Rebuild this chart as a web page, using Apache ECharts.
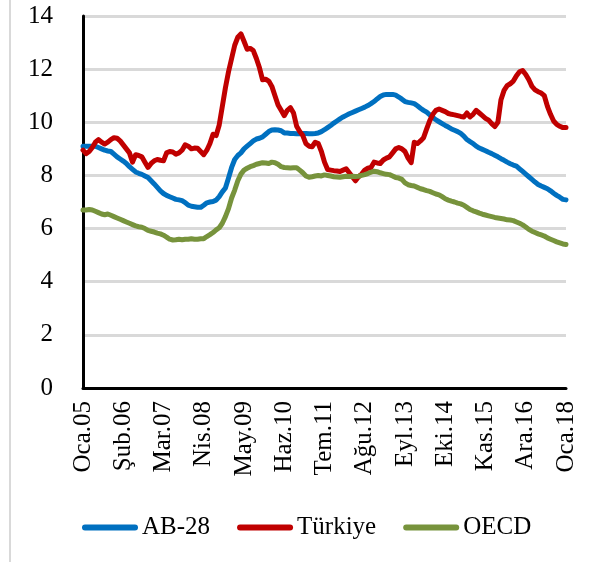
<!DOCTYPE html>
<html>
<head>
<meta charset="utf-8">
<script src="https://cdn.jsdelivr.net/npm/echarts@6/dist/echarts.min.js"></script>
<style>
html,body{margin:0;padding:0;background:#fff;}
#chart{width:592px;height:562px;}
</style>
</head>
<body>
<div id="chart"></div>
<script>
const monthNames = ['Oca','Şub','Mar','Nis','May','Haz','Tem','Ağu','Eyl','Eki','Kas','Ara'];
const years = ['05','06','07','08','09','10','11','12','13','14','15','16','17','18'];
const seriesNames = ['AB-28','Türkiye','OECD'];
const yTicks = [0,2,4,6,8,10,12,14];

const ab28 = [
9.1,9.1,9.1,9.1,9.1,9.05,9.0,8.95,8.92,8.9,8.8,8.7,
8.62,8.54,8.45,8.33,8.23,8.13,8.08,8.04,7.98,7.92,7.8,7.68,
7.55,7.42,7.32,7.25,7.2,7.15,7.1,7.08,7.05,6.98,6.88,6.84,
6.82,6.8,6.8,6.88,6.97,7.0,7.02,7.07,7.2,7.38,7.53,7.9,
8.3,8.6,8.75,8.85,9.0,9.1,9.2,9.3,9.37,9.4,9.45,9.55,
9.65,9.71,9.72,9.71,9.68,9.6,9.6,9.58,9.58,9.57,9.57,9.58,
9.58,9.57,9.57,9.58,9.6,9.65,9.72,9.8,9.88,9.97,10.05,10.13,
10.2,10.26,10.32,10.37,10.42,10.47,10.52,10.57,10.63,10.7,10.78,10.88,
10.97,11.03,11.05,11.05,11.05,11.02,10.95,10.87,10.78,10.75,10.73,10.7,
10.62,10.53,10.45,10.38,10.28,10.18,10.09,10.02,9.95,9.88,9.82,9.75,
9.7,9.65,9.58,9.48,9.35,9.27,9.2,9.1,9.03,8.98,8.93,8.87,
8.82,8.76,8.7,8.63,8.57,8.5,8.44,8.39,8.35,8.25,8.15,8.05,
7.95,7.85,7.75,7.66,7.6,7.55,7.5,7.42,7.33,7.25,7.18,7.1,
7.08];

const turkiye = [
8.95,8.82,8.9,9.05,9.25,9.35,9.25,9.18,9.25,9.35,9.42,9.4,
9.3,9.15,9.0,8.85,8.5,8.78,8.75,8.7,8.5,8.3,8.45,8.55,
8.6,8.57,8.55,8.85,8.9,8.88,8.8,8.85,8.95,9.15,9.1,9.0,
9.03,9.02,8.9,8.78,8.95,9.2,9.55,9.5,9.9,10.6,11.3,11.9,
12.4,12.9,13.2,13.33,13.05,12.75,12.78,12.7,12.4,12.05,11.6,11.62,
11.55,11.35,11.0,10.65,10.45,10.25,10.45,10.55,10.35,9.85,9.65,9.5,
9.2,9.1,9.08,9.25,9.2,8.9,8.5,8.22,8.2,8.18,8.17,8.15,
8.2,8.25,8.1,7.95,7.8,7.95,8.05,8.2,8.27,8.3,8.5,8.47,
8.45,8.58,8.65,8.7,8.85,9.0,9.05,9.0,8.9,8.65,8.48,9.25,
9.2,9.3,9.42,9.75,10.06,10.3,10.45,10.5,10.45,10.4,10.33,10.3,
10.28,10.25,10.22,10.2,10.35,10.2,10.3,10.45,10.35,10.25,10.15,10.08,
9.95,9.84,10.0,10.85,11.2,11.38,11.45,11.55,11.75,11.9,11.95,11.8,
11.6,11.35,11.22,11.15,11.1,11.0,10.6,10.3,10.05,9.92,9.85,9.8,
9.8];

const oecd = [
6.7,6.7,6.72,6.7,6.65,6.6,6.55,6.52,6.55,6.5,6.45,6.4,
6.35,6.3,6.25,6.2,6.15,6.1,6.07,6.05,6.0,5.93,5.9,5.87,
5.83,5.8,5.75,5.68,5.6,5.57,5.58,5.6,5.58,5.6,5.6,5.62,
5.6,5.6,5.62,5.62,5.7,5.77,5.85,5.95,6.03,6.2,6.45,6.75,
7.15,7.45,7.8,8.05,8.2,8.27,8.33,8.37,8.42,8.45,8.48,8.47,
8.45,8.5,8.48,8.42,8.33,8.3,8.29,8.28,8.29,8.29,8.2,8.1,
7.98,7.93,7.95,7.98,8.0,7.98,8.02,8.0,7.98,7.95,7.94,7.93,
7.95,7.97,7.96,7.97,7.96,7.97,8.0,8.03,8.07,8.12,8.16,8.14,
8.1,8.07,8.04,8.03,7.98,7.92,7.9,7.85,7.72,7.65,7.62,7.6,
7.55,7.5,7.47,7.43,7.4,7.35,7.3,7.27,7.2,7.12,7.07,7.03,
7.0,6.96,6.93,6.88,6.8,6.72,6.67,6.63,6.58,6.54,6.51,6.48,
6.45,6.42,6.4,6.38,6.36,6.33,6.32,6.3,6.25,6.2,6.14,6.06,
5.97,5.9,5.85,5.8,5.76,5.72,5.65,5.6,5.55,5.5,5.46,5.42,
5.4];

const categories = [];
years.forEach(function (y, yi) {
  monthNames.forEach(function (m, mi) {
    if (yi < years.length - 1 || mi === 0) categories.push(m + '.' + y);
  });
});

const colors = ['#0070C0', '#C00000', '#77933C'];
const FONT = 'Liberation Serif';
const legendIcon = 'path://M3,0 L53,0 A3,3 0 0 1 53,6 L3,6 A3,3 0 0 1 3,0 Z';

const chart = echarts.init(document.getElementById('chart'), null, {renderer: 'canvas'});
chart.setOption({
  animation: false,
  color: colors,
  textStyle: {fontFamily: FONT, color: '#000'},
  graphic: [{
    type: 'rect', shape: {x: 9, y: 0, width: 2, height: 562},
    style: {fill: '#d9d9d9'}, silent: true
  }],
  grid: {left: 83, right: 26, top: 16, bottom: 174},
  legend: {
    left: 77, top: 510,
    itemWidth: 56, itemHeight: 6, itemGap: 27,
    icon: legendIcon,
    textStyle: {fontFamily: FONT, fontSize: 25, color: '#000', padding: [0, 0, 0, -1]},
    data: seriesNames
  },
  xAxis: {
    type: 'category', data: categories, boundaryGap: false,
    axisLine: {lineStyle: {color: '#000', width: 3}},
    axisTick: {show: false},
    axisLabel: {interval: 12, rotate: 90, margin: 13, fontFamily: FONT, fontSize: 25, color: '#000'},
    splitLine: {show: false}
  },
  yAxis: {
    type: 'value', min: yTicks[0], max: yTicks[yTicks.length - 1], interval: 2,
    axisLine: {show: true, lineStyle: {color: '#000', width: 3}},
    axisTick: {show: false},
    axisLabel: {margin: 30, fontFamily: FONT, fontSize: 25, color: '#000'},
    splitLine: {lineStyle: {color: '#d9d9d9', width: 3}}
  },
  series: [
    {name: seriesNames[0], type: 'line', data: ab28, showSymbol: false, lineStyle: {width: 5, color: colors[0], cap: 'round', join: 'round'}},
    {name: seriesNames[1], type: 'line', data: turkiye, showSymbol: false, lineStyle: {width: 5, color: colors[1], cap: 'round', join: 'round'}},
    {name: seriesNames[2], type: 'line', data: oecd, showSymbol: false, lineStyle: {width: 5, color: colors[2], cap: 'round', join: 'round'}}
  ]
});
</script>
</body>
</html>
